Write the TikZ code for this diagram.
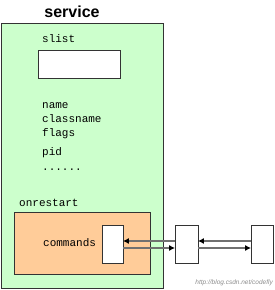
\documentclass[tikz,border=0pt]{standalone}
\usepackage{fontspec}
\usepackage{xcolor}
\usepackage{tikz}
\usetikzlibrary{arrows.meta,positioning}
\setmainfont{Liberation Mono}
\newfontfamily\titlefont{Liberation Sans}
\definecolor{svcgreen}{RGB}{204,255,204}
\definecolor{rstorange}{RGB}{255,204,153}
\definecolor{linkgray}{RGB}{112,112,112}
\tikzset{frame/.style={draw=black!80, line width=0.8pt, inner sep=0pt}, field/.style={anchor=west, inner sep=0pt, font=\fontsize{11}{12}\selectfont}, cell/.style={draw=black!80, line width=0.8pt, fill=white, inner sep=0pt, minimum width=22pt, minimum height=38pt}, link/.style={-{Latex[length=6pt,width=6pt,color=black]}, draw=linkgray, line width=1.5pt, shorten >=-0.5pt}}

\begin{document}
\begin{tikzpicture}[x=1pt,y=1pt]
\useasboundingbox (0,0) rectangle (274,290);
\node[frame,fill=svcgreen,minimum width=162pt,minimum height=265pt] (svc) at (82,134.5) {};
\node[font=\titlefont\bfseries\fontsize{16}{18}\selectfont,inner sep=0pt] (title) at (72,278) {service};
\node[field] (slist) at (42,251) {slist};
\node[frame,fill=white,minimum width=82pt,minimum height=28pt] (slistbox) at (79,226) {};
\node[field] (name) at (42,184) {name};
\node[field] (classname) at (42,171) {classname};
\node[field] (flags) at (42,156) {flags};
\node[field] (pid) at (42,137) {pid};
\node[field] (dots) at (42,120) {......};
\node[field] (onrestart) at (19,87) {onrestart};
\node[frame,fill=rstorange,minimum width=136pt,minimum height=62pt] (rst) at (82,47) {};
\node[field] (commands) at (43,47) {commands};
\node[cell,minimum width=21pt] (cmd) at (112.5,46) {};
\node[cell,minimum width=23pt] (act1) at (186.5,46) {};
\node[cell,minimum width=22pt] (act2) at (262,46) {};
\node[anchor=east,inner sep=0pt,text=black!45,font=\titlefont\itshape\fontsize{6.5}{7}\selectfont] (url) at (273,7) {http://blog.csdn.net/codefly};
\draw[link] ([yshift=3pt]act1.west) -- ([yshift=3pt]cmd.east);
\draw[link] ([yshift=-4pt]cmd.east) -- ([yshift=-4pt]act1.west);
\draw[link] ([yshift=3pt]act2.west) -- ([yshift=3pt]act1.east);
\draw[link] ([yshift=-4pt]act1.east) -- ([yshift=-4pt]act2.west);
\end{tikzpicture}
\end{document}
